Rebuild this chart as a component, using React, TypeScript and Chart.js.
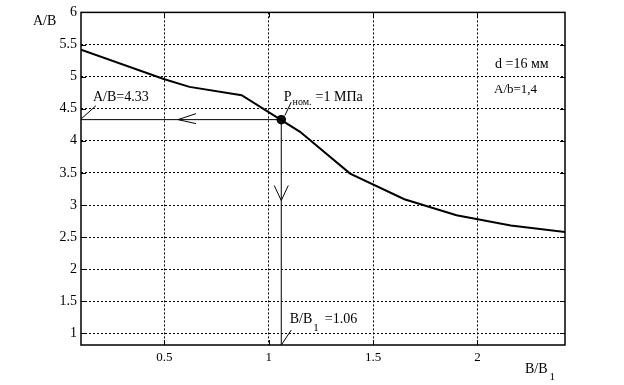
import React, { useEffect, useRef } from 'react';
import { Chart, registerables } from 'chart.js';
Chart.register(...registerables);

const curveX = [0.1, 0.5, 0.62, 0.87, 1.15, 1.39, 1.65, 1.9, 2.16, 2.42];
const curveY = [5.42, 4.96, 4.84, 4.71, 4.14, 3.49, 3.09, 2.84, 2.68, 2.58];
const nominalX = [1.06];
const nominalY = [4.33];
const xTicks = [0.5, 1, 1.5, 2];
const yTicks = [1, 1.5, 2, 2.5, 3, 3.5, 4, 4.5, 5, 5.5, 6];
const xRange = [0.1, 2.42];
const yRange = [0.82, 6];
const arrowLeftTipX = [0.565];
const arrowDownTipY = [3.07];
const labelAB = 'A/B=4.33';
const labelP = ['P', 'ном.', '=1 МПа'];
const labelBB = ['B/B', '1', '=1.06'];
const infoTexts = ['d =16 мм', 'A/b=1,4'];
const yTitle = 'A/B';
const xTitle = ['B/B', '1'];

const FONT = '"Liberation Serif", "Times New Roman", serif';

const annotPlugin = {
  id: 'annot',
  beforeDatasetsDraw(chart: any) {
    const { ctx, chartArea, scales } = chart;
    const { left, bottom } = chartArea;
    const x = scales.x, y = scales.y;
    const mx = x.getPixelForValue(nominalX[0]);
    const my = y.getPixelForValue(nominalY[0]);
    ctx.save();
    ctx.strokeStyle = '#000';
    ctx.lineWidth = 1;
    ctx.beginPath();
    ctx.moveTo(left, my);
    ctx.lineTo(mx, my);
    ctx.moveTo(mx, my);
    ctx.lineTo(mx, bottom);
    // left arrow
    const ax = x.getPixelForValue(arrowLeftTipX[0]);
    ctx.moveTo(ax + 18, my - 6);
    ctx.lineTo(ax, my);
    ctx.lineTo(ax + 18, my + 4);
    // down arrow
    const ay = y.getPixelForValue(arrowDownTipY[0]);
    ctx.moveTo(mx - 7, ay - 15);
    ctx.lineTo(mx, ay);
    ctx.lineTo(mx + 7, ay - 15);
    // leaders
    ctx.moveTo(left + 0.5, my - 1);
    ctx.lineTo(left + 15, my - 14);
    ctx.moveTo(mx + 3.5, my - 4);
    ctx.lineTo(mx + 10, my - 17.5);
    ctx.moveTo(mx, bottom);
    ctx.lineTo(mx + 10, bottom - 15);
    ctx.stroke();
    ctx.restore();
  },
  afterDraw(chart: any) {
    const { ctx, chartArea, scales } = chart;
    const { left, right, top, bottom } = chartArea;
    const x = scales.x, y = scales.y;
    const mx = x.getPixelForValue(nominalX[0]);
    const my = y.getPixelForValue(nominalY[0]);
    ctx.save();
    ctx.strokeStyle = '#000';
    ctx.lineWidth = 1.5;
    ctx.strokeRect(left, top, right - left, bottom - top);
    ctx.lineWidth = 1;
    ctx.beginPath();
    xTicks.forEach((v) => {
      const px = Math.round(x.getPixelForValue(v)) + 0.5;
      ctx.moveTo(px, bottom);
      ctx.lineTo(px, bottom - 5);
      ctx.moveTo(px, top);
      ctx.lineTo(px, top + 5);
    });
    yTicks.forEach((v) => {
      const py = Math.round(y.getPixelForValue(v)) + 0.5;
      ctx.moveTo(left, py);
      ctx.lineTo(left + 5, py);
      ctx.moveTo(right, py);
      ctx.lineTo(right - 5, py);
    });
    ctx.stroke();

    ctx.fillStyle = '#000';
    ctx.textBaseline = 'alphabetic';
    ctx.textAlign = 'left';
    // A/B=4.33
    ctx.font = '14px ' + FONT;
    ctx.fillText(labelAB, left + 12, my - 19);
    // P nom
    let tx = mx + 2.5;
    ctx.font = '14px ' + FONT;
    ctx.fillText(labelP[0], tx, my - 19);
    tx += ctx.measureText(labelP[0]).width + 1;
    ctx.font = '10px ' + FONT;
    ctx.fillText(labelP[1], tx, my - 15);
    tx += ctx.measureText(labelP[1]).width + 4;
    ctx.font = '14px ' + FONT;
    ctx.fillText(labelP[2], tx, my - 19);
    // B/B1 = 1.06
    tx = mx + 8.5;
    ctx.fillText(labelBB[0], tx, bottom - 22);
    tx += ctx.measureText(labelBB[0]).width + 1;
    ctx.font = '11px ' + FONT;
    ctx.fillText(labelBB[1], tx, bottom - 14);
    tx += ctx.measureText(labelBB[1]).width + 6;
    ctx.font = '14px ' + FONT;
    ctx.fillText(labelBB[2], tx, bottom - 22);
    // info
    ctx.font = '14px ' + FONT;
    ctx.fillText(infoTexts[0], right - 70, top + 56);
    ctx.font = '13px ' + FONT;
    ctx.fillText(infoTexts[1], right - 71, top + 81);
    // titles
    ctx.font = '14px ' + FONT;
    ctx.fillText(yTitle, left - 48, top + 12.5);
    ctx.fillText(xTitle[0], right - 40, bottom + 28);
    const w = ctx.measureText(xTitle[0]).width;
    ctx.font = '11px ' + FONT;
    ctx.fillText(xTitle[1], right - 40 + w + 2, bottom + 35);
    ctx.restore();
  },
};

export default function App() {
  const ref = useRef<HTMLCanvasElement | null>(null);
  useEffect(() => {
    if (!ref.current) return;
    const chart = new Chart(ref.current, {
      type: 'scatter',
      data: {
        datasets: [
          {
            data: curveX.map((v, i) => ({ x: v, y: curveY[i] })),
            showLine: true,
            borderColor: '#000',
            borderWidth: 2,
            pointRadius: 0,
            tension: 0,
          },
          {
            data: nominalX.map((v, i) => ({ x: v, y: nominalY[i] })),
            showLine: false,
            pointRadius: 4,
            pointBackgroundColor: '#111',
            pointBorderColor: '#000',
            pointBorderWidth: 1.5,
          },
        ],
      },
      options: {
        responsive: false,
        animation: false,
        events: [],
        layout: { padding: { top: 12, right: 59, left: 0, bottom: 0 } },
        plugins: { legend: { display: false }, tooltip: { enabled: false } },
        scales: {
          x: {
            type: 'linear',
            min: xRange[0],
            max: xRange[1],
            afterBuildTicks: (s: any) => { s.ticks = xTicks.map((v) => ({ value: v })); },
            afterFit: (s: any) => { s.height = 40; },
            grid: { color: '#000', lineWidth: 1, drawTicks: false },
            border: { display: false, dash: [2, 2] },
            ticks: {
              padding: 5,
              color: '#000',
              font: { family: FONT, size: 13 },
              callback: (v: any) => String(v),
              maxRotation: 0,
            },
          },
          y: {
            type: 'linear',
            min: yRange[0],
            max: yRange[1],
            afterBuildTicks: (s: any) => { s.ticks = yTicks.map((v) => ({ value: v })); },
            afterFit: (s: any) => { s.width = 81; },
            grid: { color: '#000', lineWidth: 1, drawTicks: false },
            border: { display: false, dash: [2, 2] },
            ticks: {
              padding: 4,
              color: '#000',
              font: { family: FONT, size: 14 },
              callback: (v: any) => String(v),
            },
          },
        },
      },
      plugins: [annotPlugin],
    } as any);
    return () => chart.destroy();
  }, []);
  return (
    <div style={{ position: 'fixed', left: 0, top: 0, width: 624, height: 385, background: '#fff' }}>
      <canvas ref={ref} width={624} height={385} style={{ display: 'block' }} />
    </div>
  );
}
